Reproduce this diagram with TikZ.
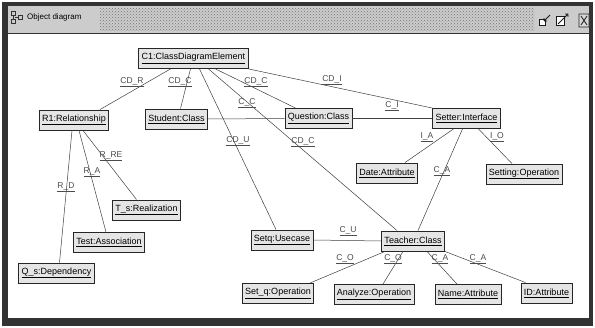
\documentclass[tikz,border=0pt]{standalone}
\usepackage{fontspec}
\setmainfont{Liberation Sans}
\usetikzlibrary{calc,patterns}
\begin{document}
\begin{tikzpicture}[x=1pt,y=-1pt,
  obj/.style={draw=black!85, line width=0.9pt, fill=black!10, font=\fontsize{9}{10}\selectfont, inner xsep=3pt, inner ysep=0pt, minimum height=20pt},
  lnk/.style={draw=black!75, line width=0.5pt},
  lbl/.style={font=\fontsize{8.5}{10}\selectfont, text=black!70, inner sep=0.5pt},
  ttl/.style={font=\fontsize{8}{9}\selectfont, inner sep=0pt, anchor=west}]
\useasboundingbox (0,0) rectangle (595,328);
% window frame
\fill[white] (0,0) rectangle (595,328);
\fill[black!80] (2,2) rectangle (593,326);
\fill[black!20] (8,6) rectangle (589,33);
\fill[pattern=crosshatch dots, pattern color=black!55] (100,8) rectangle (534,31);
\fill[white] (8,34) rectangle (589,318);
% title icon
\draw[black!80, line width=0.6pt] (11,11) rectangle (15,15) (11,19) rectangle (15,23) (18,15) rectangle (22,19)
  (13,15) -- (13,19) (15,17) -- (18,17);
\node[ttl] (title) at (27,17.5) {Object diagram};
% right icons
\draw[black!90, line width=1pt, fill=white] (539,20) rectangle (545,26);
\draw[black!90, line width=0.8pt] (544,21) -- (550,15) (544,21) -- (544,18) (544,21) -- (547,21);
\draw[black!90, line width=1pt, fill=white] (556,17) rectangle (564,26);
\draw[black!90, line width=0.8pt] (558,24) -- (568,14) (568,14) -- (568,17) (568,14) -- (565,14);
\draw[black!85, line width=0.9pt, fill=black!15] (579,14) rectangle (589,27) (581,16) -- (587,25) (587,16) -- (581,25);
% objects
\node[obj] (c1) at (193.5,58.5) {\underline{C1:ClassDiagramElement}};
\node[obj] (r1) at (74,120) {\underline{R1:Relationship}};
\node[obj] (st) at (176.5,119) {\underline{Student:Class}};
\node[obj] (qu) at (318.5,118.5) {\underline{Question:Class}};
\node[obj] (se) at (466.5,118.5) {\underline{Setter:Interface}};
\node[obj] (da) at (387,173) {\underline{Date:Attribute}};
\node[obj] (so) at (524,174) {\underline{Setting:Operation}};
\node[obj] (ts) at (146.5,210) {\underline{T\_s:Realization}};
\node[obj] (ta) at (109,242.5) {\underline{Test:Association}};
\node[obj] (qs) at (56.5,273) {\underline{Q\_s:Dependency}};
\node[obj] (sq) at (282,240) {\underline{Setq:Usecase}};
\node[obj] (te) at (413,241) {\underline{Teacher:Class}};
\node[obj] (sop) at (278,293.5) {\underline{Set\_q:Operation}};
\node[obj] (an) at (374,294.5) {\underline{Analyze:Operation}};
\node[obj] (na) at (468,294.5) {\underline{Name:Attribute}};
\node[obj] (id) at (546.5,293) {\underline{ID:Attribute}};
% links
\draw[lnk] ([xshift=-23pt]c1.south) -- ([xshift=26pt]r1.north);
\draw[lnk] ([xshift=-3pt]c1.south) -- ([xshift=4pt]st.north);
\draw[lnk] ([xshift=6pt]c1.south) -- ([xshift=-6pt]sq.north);
\draw[lnk] ([xshift=15pt]c1.south) -- ([xshift=-16pt]te.north);
\draw[lnk] ([xshift=22pt]c1.south) -- ([xshift=-23pt]qu.north);
\draw[lnk] (c1.south east) -- (se.north west);
\draw[lnk] (st.east) -- (qu.west);
\draw[lnk] (qu.east) -- (se.west);
\draw[lnk] ([xshift=-13pt]se.south) -- ([xshift=18pt]da.north);
\draw[lnk] ([xshift=12pt]se.south) -- ([xshift=-12pt]so.north);
\draw[lnk] ([xshift=-4pt]se.south) -- ([xshift=5pt]te.north);
\draw[lnk] ([xshift=-2pt]r1.south) -- ([xshift=3pt]qs.north);
\draw[lnk] ([xshift=5pt]r1.south) -- ([xshift=-3pt]ta.north);
\draw[lnk] ([xshift=9pt]r1.south) -- ([xshift=-10pt]ts.north);
\draw[lnk] (sq.east) -- (te.west);
\draw[lnk] ([xshift=-28pt]te.south) -- ([xshift=32pt]sop.north);
\draw[lnk] ([xshift=-10pt]te.south) -- ([xshift=9pt]an.north);
\draw[lnk] ([xshift=14pt]te.south) -- ([xshift=-11pt]na.north);
\draw[lnk] (te.south east) -- ([xshift=-21pt]id.north);
% link labels
\node[lbl] (l1) at (132,82) {\underline{CD\_R}};
\node[lbl] (l2) at (180,82) {\underline{CD\_C}};
\node[lbl] (l3) at (256,82) {\underline{CD\_C}};
\node[lbl] (l4) at (332,80) {\underline{CD\_I}};
\node[lbl] (l5) at (247,103) {\underline{C\_C}};
\node[lbl] (l6) at (392,106) {\underline{C\_I}};
\node[lbl] (l7) at (238,141) {\underline{CD\_U}};
\node[lbl] (l8) at (303,142) {\underline{CD\_C}};
\node[lbl] (l9) at (427,137) {\underline{I\_A}};
\node[lbl] (l10) at (497,137) {\underline{I\_O}};
\node[lbl] (l11) at (442,171) {\underline{C\_A}};
\node[lbl] (l12) at (111,156) {\underline{R\_RE}};
\node[lbl] (l13) at (92,172) {\underline{R\_A}};
\node[lbl] (l14) at (66,187) {\underline{R\_D}};
\node[lbl] (l15) at (348,231) {\underline{C\_U}};
\node[lbl] (l16) at (345,259) {\underline{C\_O}};
\node[lbl] (l17) at (393,259) {\underline{C\_O}};
\node[lbl] (l18) at (440,259) {\underline{C\_A}};
\node[lbl] (l19) at (478,259) {\underline{C\_A}};
\end{tikzpicture}
\end{document}
